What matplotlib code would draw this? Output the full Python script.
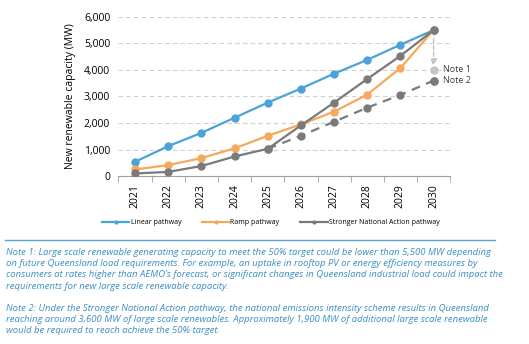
import numpy as np
import matplotlib.pyplot as plt

years = [2021, 2022, 2023, 2024, 2025, 2026, 2027, 2028, 2029, 2030]
linear = [540, 1130, 1630, 2200, 2770, 3300, 3860, 4380, 4950, 5500]
ramp = [250, 415, 680, 1045, 1520, 1950, 2430, 3070, 4075, 5500]
sna = [100, 160, 380, 740, 1030, 1910, 2770, 3660, 4530, 5500]
sna_years_dash = [2025, 2026, 2027, 2028, 2029, 2030]
sna_dash = [1030, 1520, 2050, 2580, 3060, 3600]
note1_value = 4000
note2_value = 3600

c_lin = '#4ba3d8'
c_ramp = '#f6a95b'
c_sna = '#7a7a7a'
c_note1 = '#c4c4c4'
c_text = '#3b8fc2'

plt.rcParams['font.family'] = ['Open Sans', 'DejaVu Sans']

fig = plt.figure(figsize=(5.29, 3.44), dpi=100)
ax = fig.add_axes([0.224, 0.488, 0.627, 0.463])

x = np.arange(len(years))
xd = np.array([years.index(y) for y in sna_years_dash])

for y in range(1000, 7000, 1000):
    ax.axhline(y, color='#d0d0d0', lw=0.8, ls=(0, (4, 3)), zorder=0)

ax.plot(xd, sna_dash, color=c_sna, lw=1.6, ls=(0, (4, 3)), marker='o', ms=5, zorder=2)
ax.plot(x, linear, color=c_lin, lw=1.6, marker='o', ms=5, zorder=3)
ax.plot(x, ramp, color=c_ramp, lw=1.6, marker='o', ms=5, zorder=3)
ax.plot(x, sna, color=c_sna, lw=1.6, marker='o', ms=5, zorder=4)

# note 1 arrow and markers
ax.annotate('', xy=(x[-1], 4150), xytext=(x[-1], 5450),
            arrowprops=dict(arrowstyle='-|>', color=c_note1, lw=1.0, ls=(0, (3, 2)),
                            mutation_scale=10, shrinkA=0, shrinkB=0), zorder=1)
ax.plot([x[-1]], [note1_value], 'o', color=c_note1, ms=5, zorder=5)
ax.plot([x[-1]], [note2_value], 'o', color=c_sna, ms=5, zorder=5)
ax.text(x[-1] + 0.27, note1_value, 'Note 1', fontsize=6.5, va='center', color='#404040')
ax.text(x[-1] + 0.27, note2_value, 'Note 2', fontsize=6.5, va='center', color='#404040')

ax.set_xlim(-0.5, len(years) - 0.5)
ax.set_ylim(0, 6000)
ax.set_yticks(range(0, 7000, 1000))
ax.set_yticklabels([f'{v:,}' for v in range(0, 7000, 1000)], fontsize=7.5)
ax.set_xticks(x)
ax.set_xticklabels([str(y) for y in years], rotation=90, fontsize=7.5)
ax.set_xticks(np.arange(-0.5, len(years)), minor=True)
ax.tick_params(axis='x', which='major', length=0, pad=6)
ax.tick_params(axis='x', which='minor', length=4, color='#a0a0a0', direction='out')
ax.tick_params(axis='y', length=0, pad=6)
ax.set_ylabel('New renewable capacity (MW)', fontsize=7.5, labelpad=6)
for s in ['top', 'right', 'left']:
    ax.spines[s].set_visible(False)
ax.spines['bottom'].set_color('#a0a0a0')

handles = [plt.Line2D([], [], color=c, lw=1.6, marker='o', ms=2) for c in (c_lin, c_ramp, c_sna)]
fig.legend(handles, ['Linear pathway', 'Ramp pathway', 'Stronger National Action pathway'],
           loc='center', bbox_to_anchor=(0.512, 0.353), ncol=3, frameon=False, fontsize=5,
           handlelength=3.9, handletextpad=0.2, columnspacing=3.0)

fig.add_artist(plt.Line2D([0.01, 0.935], [0.302, 0.302], color='#5aa6d6', lw=1.0))

note1 = ["Note 1: Large scale renewable generating capacity to meet the 50% target could be lower than 5,500 MW depending",
         "on future Queensland load requirements. For example, an uptake in rooftop PV or energy efficiency measures by",
         "consumers at rates higher than AEMO\u2019s forecast, or significant changes in Queensland industrial load could impact the",
         "requirements for new large scale renewable capacity."]
note2 = ["Note 2: Under the Stronger National Action pathway, the national emissions intensity scheme results in Queensland",
         "reaching around 3,600 MW of large scale renewables. Approximately 1,900 MW of additional large scale renewable",
         "would be required to reach achieve the 50% target."]
fig.text(0.011, 1 - 248 / 344, '\n'.join(note1), fontsize=6.8, style='italic', color=c_text,
         va='top', linespacing=1.32)
fig.text(0.011, 1 - 304 / 344, '\n'.join(note2), fontsize=6.8, style='italic', color=c_text,
         va='top', linespacing=1.32)

fig.savefig('out.png', dpi=100)
